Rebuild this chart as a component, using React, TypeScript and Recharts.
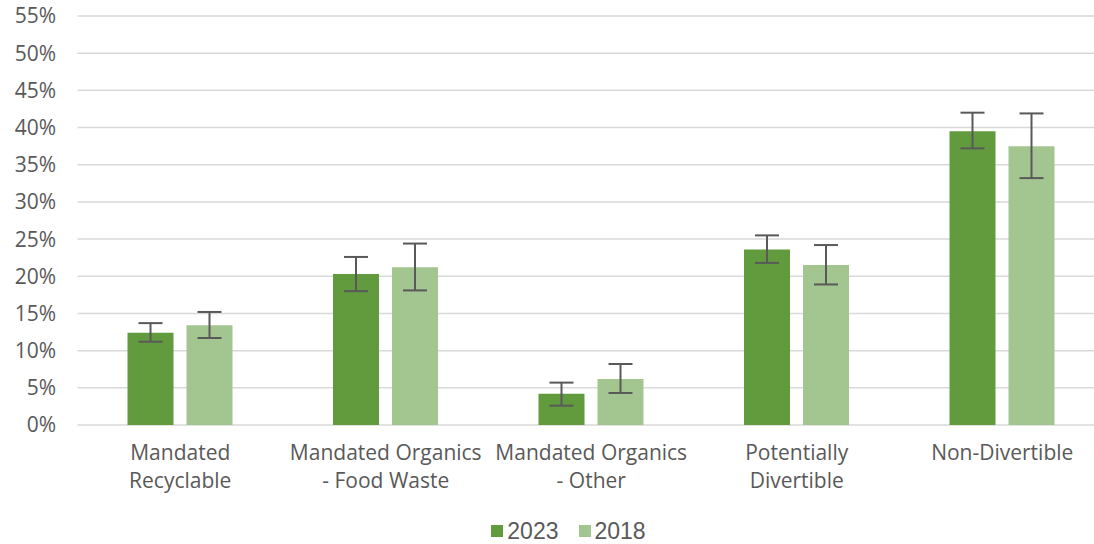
import React from "react";
import {
  BarChart,
  Bar,
  XAxis,
  YAxis,
  CartesianGrid,
  ErrorBar,
  Legend,
} from "recharts";

// categories, with "\n" where the axis label wraps
const categories = [
  "Mandated\nRecyclable",
  "Mandated Organics\n- Food Waste",
  "Mandated Organics\n- Other",
  "Potentially\nDivertible",
  "Non-Divertible",
];

const values2023 = [12.4, 20.3, 4.2, 23.6, 39.5];
const errors2023 = [
  [1.2, 1.3],
  [2.3, 2.3],
  [1.6, 1.5],
  [1.8, 1.9],
  [2.3, 2.5],
];

const values2018 = [13.4, 21.2, 6.2, 21.5, 37.5];
const errors2018 = [
  [1.7, 1.8],
  [3.1, 3.2],
  [1.9, 2.0],
  [2.6, 2.7],
  [4.3, 4.4],
];

const yTicks = [0, 5, 10, 15, 20, 25, 30, 35, 40, 45, 50, 55];

const DARK = "#629B3E";
const LIGHT = "#A3C590";
const TEXT = "#595959";
const FONT = "'Open Sans', 'Liberation Sans', sans-serif";
// tighter line box, so the legend at the bottom edge stays inside the page
const LEGEND_FONT = "'Liberation Sans', Arial, sans-serif";

const data = categories.map((name, i) => ({
  name,
  y2023: values2023[i],
  e2023: errors2023[i],
  y2018: values2018[i],
  e2018: errors2018[i],
}));

const CategoryTick = (props: any) => {
  const { x, y, payload } = props;
  const lines = String(payload.value).split("\n");
  return (
    <text x={x} y={y} textAnchor="middle" fill={TEXT} fontSize={21} fontFamily={FONT}>
      {lines.map((line, i) => (
        <tspan key={i} x={x} dy={i === 0 ? 27 : 28}>
          {line}
        </tspan>
      ))}
    </text>
  );
};

const renderLegend = () => (
  <div
    style={{
      display: "flex",
      justifyContent: "center",
      alignItems: "center",
      height: 24,
      marginTop: 13.5,
      marginLeft: 32,
      fontFamily: LEGEND_FONT,
      fontSize: 23,
      lineHeight: "24px",
      color: TEXT,
    }}
  >
    {[
      { label: "2023", color: DARK },
      { label: "2018", color: LIGHT },
    ].map((item) => (
      <span key={item.label} style={{ display: "flex", alignItems: "center", margin: "0 10px" }}>
        <span style={{ width: 12, height: 12, background: item.color, marginRight: 4 }} />
        {item.label}
      </span>
    ))}
  </div>
);

export default function App() {
  return (
    <div
      style={{
        position: "absolute",
        left: 0,
        top: 0,
        width: 1094,
        height: 544,
        overflow: "hidden",
        background: "#fff",
      }}
    >
      {/* plot runs a little past the right edge, as in the reference crop */}
      <BarChart
        width={1105}
        height={544}
        data={data}
        margin={{ top: 16, right: 0, left: 0, bottom: 0 }}
        barSize={46}
        barGap={13}
      >
        <CartesianGrid vertical={false} stroke="#D9D9D9" strokeWidth={1.5} />
        <XAxis
          dataKey="name"
          axisLine={false}
          tickLine={false}
          height={80}
          interval={0}
          tick={<CategoryTick />}
        />
        <YAxis
          width={77.5}
          domain={[0, 55]}
          ticks={yTicks}
          axisLine={false}
          tickLine={false}
          tickMargin={15.5}
          tickFormatter={(v) => `${v}%`}
          tick={{ fill: TEXT, fontSize: 21, fontFamily: FONT }}
        />
        <Legend verticalAlign="bottom" height={39} content={renderLegend} />
        <Bar dataKey="y2023" name="2023" fill={DARK} isAnimationActive={false}>
          <ErrorBar dataKey="e2023" width={12} stroke={TEXT} strokeWidth={2} />
        </Bar>
        <Bar dataKey="y2018" name="2018" fill={LIGHT} isAnimationActive={false}>
          <ErrorBar dataKey="e2018" width={12} stroke={TEXT} strokeWidth={2} />
        </Bar>
      </BarChart>
    </div>
  );
}
